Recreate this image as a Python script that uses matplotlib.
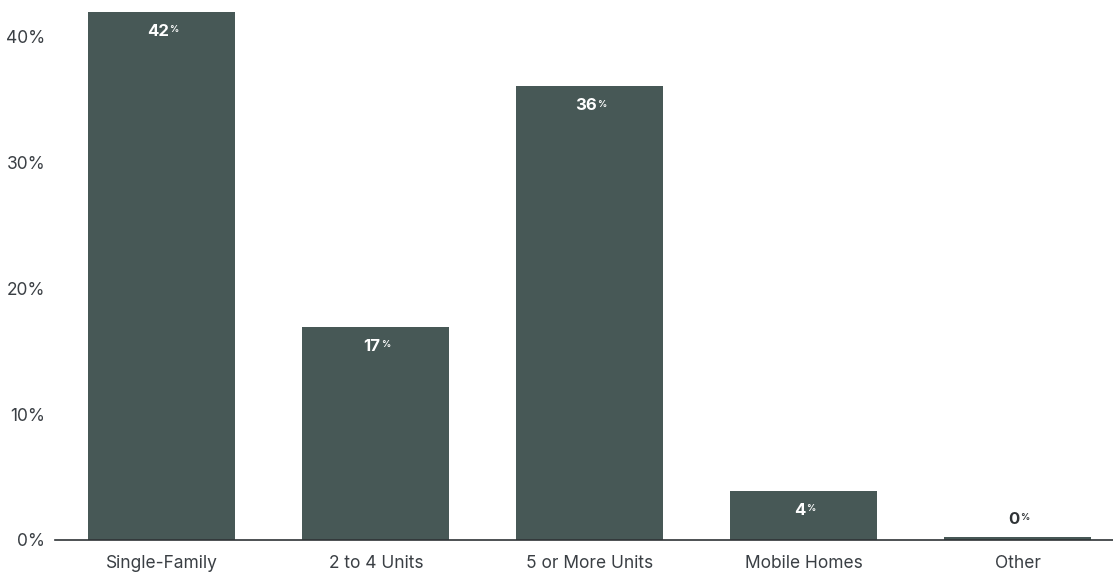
import matplotlib.pyplot as plt

categories = ["Single-Family", "2 to 4 Units", "5 or More Units", "Mobile Homes", "Other"]
shares = [41.9, 16.9, 36.0, 3.9, 0.2]
value_labels = ["42", "17", "36", "4", "0"]
y_ticks = [0, 10, 20, 30, 40]

bar_color = "#475856"
text_color = "#3a3f44"

plt.rcParams['font.family'] = ['Inter', 'DejaVu Sans']

fig = plt.figure(figsize=(11.13, 5.73), dpi=100)
ax = fig.add_axes([55 / 1113, 33 / 573, 1 - 55 / 1113, 540 / 573])

x = range(len(categories))
bars = ax.bar(x, shares, width=0.687, color=bar_color, zorder=2)

ax.set_xlim(-0.5, 4.445)
ax.set_ylim(0, 42.86)

for spine in ["top", "right", "left"]:
    ax.spines[spine].set_visible(False)
ax.spines["bottom"].set_color("#2f3336")
ax.spines["bottom"].set_linewidth(1.2)

ax.set_yticks(y_ticks)
ax.set_yticklabels([f"{t}%" for t in y_ticks], fontsize=12.5, color=text_color)
ax.tick_params(axis="y", length=0, pad=7)
ax.set_xticks(list(x))
ax.set_xticklabels(categories, fontsize=12.5, color=text_color)
ax.tick_params(axis="x", length=0, pad=11)

# value labels with a small superscript percent sign
for bar, lab, val in zip(bars, value_labels, shares):
    cx = bar.get_x() + bar.get_width() / 2
    if val > 2:
        num = ax.annotate(lab, (cx, val), xytext=(-3, -14), textcoords="offset points",
                          ha="center", va="center", fontsize=12, fontweight="bold", color="white")
        pct_color = "white"
    else:
        num = ax.annotate(lab, (cx, val), xytext=(-3, 13), textcoords="offset points",
                          ha="center", va="center", fontsize=12, fontweight="bold", color="#2f3336")
        pct_color = "#2f3336"
    ax.annotate("%", xy=(1, 1), xycoords=num, xytext=(0.5, -1), textcoords="offset points",
                ha="left", va="top", fontsize=6.5, fontweight="bold", color=pct_color)

fig.savefig("out.png", dpi=100)
